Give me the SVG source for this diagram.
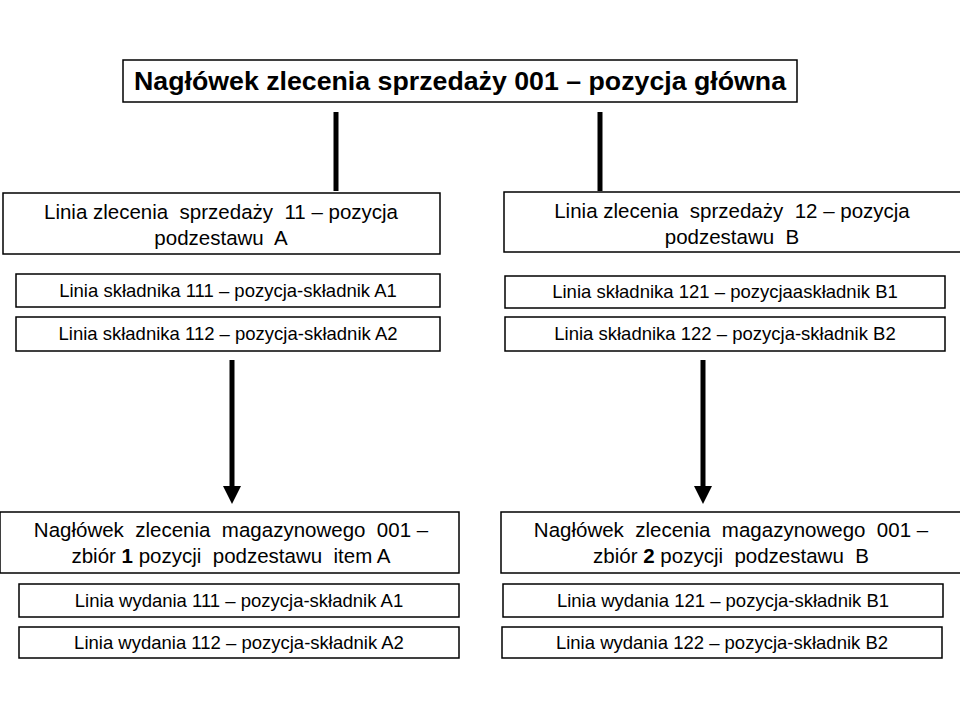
<svg xmlns="http://www.w3.org/2000/svg" width="960" height="720" viewBox="0 0 960 720">
<style>
.box{fill:#fff;stroke:#000;stroke-width:1.5}
.t{font-family:"Liberation Sans",Arial,sans-serif;font-size:20.5px;fill:#000;text-anchor:middle}
.s{font-family:"Liberation Sans",Arial,sans-serif;font-size:18.5px;fill:#000;text-anchor:middle}
.h{font-family:"Liberation Sans",Arial,sans-serif;font-size:26px;font-weight:bold;fill:#000;text-anchor:middle}
.b{font-weight:bold}
.c{stroke:#000;stroke-width:5;fill:none}
</style>
<rect width="960" height="720" fill="#fff"/>
<g id="connectors">
<line class="c" x1="336" y1="112" x2="336" y2="191"/>
<line class="c" x1="600" y1="112" x2="600" y2="191"/>
<line class="c" x1="232" y1="360" x2="232" y2="488"/>
<polygon points="223,486 241,486 232,504"/>
<line class="c" x1="703" y1="360" x2="703" y2="488"/>
<polygon points="694,486 712,486 703,504"/>
</g>
<g id="header">
<rect class="box" x="123" y="60" width="674" height="42"/>
<text class="h" x="460" y="90" textLength="652" lengthAdjust="spacingAndGlyphs">Nagłówek zlecenia sprzedaży 001 – pozycja główna</text>
</g>
<g id="line11">
<rect class="box" x="3" y="193" width="437" height="61"/>
<text class="t" x="221" y="219" xml:space="preserve">Linia zlecenia  sprzedaży  11 – pozycja</text>
<text class="t" x="221" y="245" xml:space="preserve">podzestawu  A</text>
</g>
<g id="line12">
<rect class="box" x="504" y="192" width="460" height="60"/>
<text class="t" x="732" y="218" xml:space="preserve">Linia zlecenia  sprzedaży  12 – pozycja</text>
<text class="t" x="732" y="244" xml:space="preserve">podzestawu  B</text>
</g>
<g id="comp111">
<rect class="box" x="16" y="274" width="424" height="33"/>
<text class="s" x="228" y="297">Linia składnika 111 – pozycja-składnik A1</text>
</g>
<g id="comp112">
<rect class="box" x="16" y="317" width="424" height="34"/>
<text class="s" x="228" y="340">Linia składnika 112 – pozycja-składnik A2</text>
</g>
<g id="comp121">
<rect class="box" x="505" y="276" width="440" height="32"/>
<text class="s" x="725" y="298">Linia składnika 121 – pozycjaaskładnik B1</text>
</g>
<g id="comp122">
<rect class="box" x="505" y="317" width="440" height="34"/>
<text class="s" x="725" y="340">Linia składnika 122 – pozycja-składnik B2</text>
</g>
<g id="wh1">
<rect class="box" x="0" y="512" width="459" height="61"/>
<text class="t" x="231" y="537" xml:space="preserve">Nagłówek  zlecenia  magazynowego  001 –</text>
<text class="t" x="231" y="563" xml:space="preserve">zbiór <tspan class="b">1</tspan> pozycji  podzestawu  item A</text>
</g>
<g id="wh2">
<rect class="box" x="501" y="512" width="463" height="61"/>
<text class="t" x="731" y="537" xml:space="preserve">Nagłówek  zlecenia  magazynowego  001 –</text>
<text class="t" x="731" y="563" xml:space="preserve">zbiór <tspan class="b">2</tspan> pozycji  podzestawu  B</text>
</g>
<g id="issue111">
<rect class="box" x="19" y="584" width="440" height="33"/>
<text class="s" x="239" y="607">Linia wydania 111 – pozycja-składnik A1</text>
</g>
<g id="issue112">
<rect class="box" x="19" y="627" width="440" height="31"/>
<text class="s" x="239" y="649">Linia wydania 112 – pozycja-składnik A2</text>
</g>
<g id="issue121">
<rect class="box" x="503" y="584" width="440" height="33"/>
<text class="s" x="723" y="607">Linia wydania 121 – pozycja-składnik B1</text>
</g>
<g id="issue122">
<rect class="box" x="502" y="627" width="440" height="31"/>
<text class="s" x="722" y="649">Linia wydania 122 – pozycja-składnik B2</text>
</g>
</svg>
